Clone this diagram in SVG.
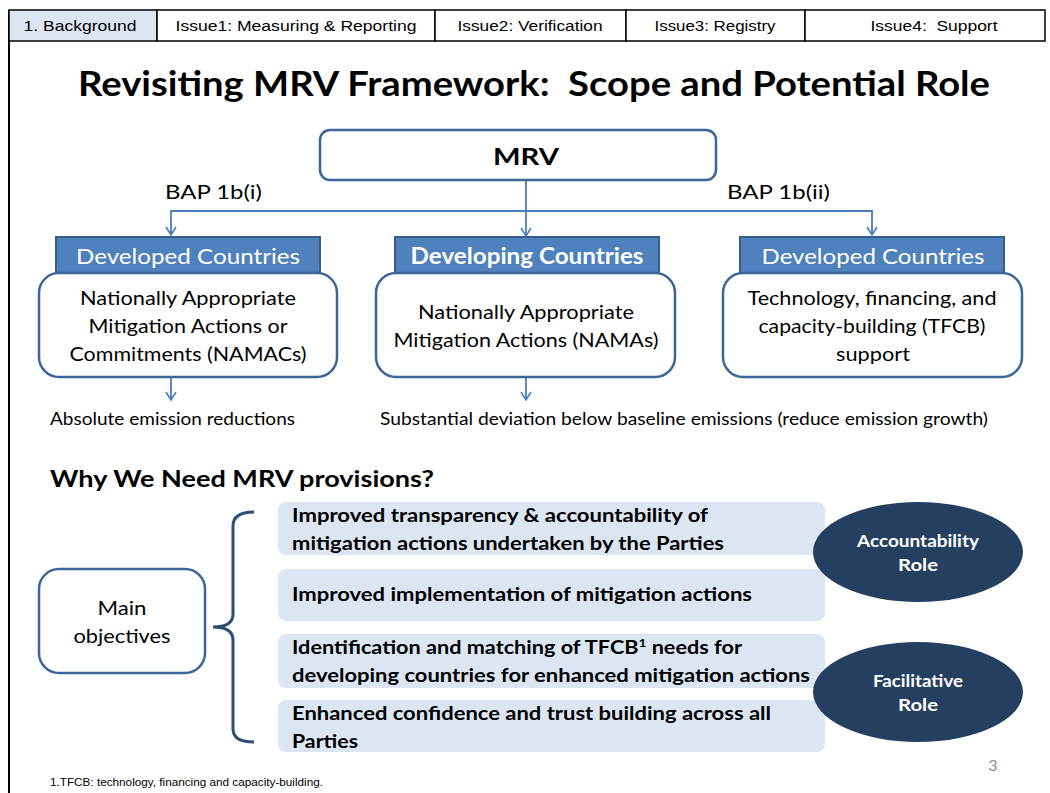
<svg xmlns="http://www.w3.org/2000/svg" width="1050" height="793" viewBox="0 0 1050 793">
<defs>
<marker id="arr" markerWidth="10" markerHeight="12" refX="9" refY="6" orient="auto-start-reverse" markerUnits="userSpaceOnUse" viewBox="0 0 10 12">
<path d="M1,1 L9,6 L1,11" fill="none" stroke="#4a7ebb" stroke-width="1.6"/>
</marker>
<style>
.tab{fill:#fff;stroke:#000;stroke-width:1.5}
.tabt{font-family:"Liberation Sans",Arial,sans-serif;font-size:15px;fill:#000;text-anchor:middle}
.c{font-family:Lato,"Open Sans",sans-serif;fill:#000}
.box{fill:#fff;stroke:#3c6697;stroke-width:2.5}
.hdr{fill:#4f81bd;stroke:#385d8a;stroke-width:2}
.hdrt{font-family:Lato,"Open Sans",sans-serif;font-size:22px;fill:#fff;text-anchor:middle}
.bt{font-family:Lato,"Open Sans",sans-serif;font-size:20px;fill:#000;text-anchor:middle}
.bar{fill:#dce6f2}
.bart{font-family:Lato,"Open Sans",sans-serif;font-size:19px;font-weight:bold;fill:#000}
.ell{fill:#243f60}
.ellt{font-family:Lato,"Open Sans",sans-serif;font-size:17px;font-weight:bold;fill:#fff;text-anchor:middle}
.conn{fill:none;stroke:#4a7ebb;stroke-width:1.8}
</style>
</defs>
<rect width="1050" height="793" fill="#fff"/>
<g id="frame">
<line x1="9" y1="10" x2="9" y2="793" stroke="#000" stroke-width="2"/>
<rect x="9" y="10" width="148" height="31" fill="#dce6f2" stroke="#000" stroke-width="1.5"/>
<rect class="tab" x="157" y="10" width="278" height="31"/>
<rect class="tab" x="435" y="10" width="191" height="31"/>
<rect class="tab" x="626" y="10" width="179" height="31"/>
<rect class="tab" x="805" y="10" width="240" height="31"/>
<text class="tabt" x="80" y="31" textLength="113" lengthAdjust="spacingAndGlyphs">1. Background</text>
<text class="tabt" x="296" y="31" textLength="241" lengthAdjust="spacingAndGlyphs">Issue1: Measuring &amp; Reporting</text>
<text class="tabt" x="530" y="31" textLength="145" lengthAdjust="spacingAndGlyphs">Issue2: Verification</text>
<text class="tabt" x="715" y="31" textLength="121" lengthAdjust="spacingAndGlyphs">Issue3: Registry</text>
<text class="tabt" x="934" y="31" textLength="127" lengthAdjust="spacingAndGlyphs" xml:space="preserve">Issue4:  Support</text>
</g>
<text class="c" x="78" y="96" font-size="34" font-weight="bold" textLength="912" lengthAdjust="spacingAndGlyphs" xml:space="preserve">Revisiting MRV Framework:  Scope and Potential Role</text>
<g id="connectors">
<line class="conn" x1="526" y1="180" x2="526" y2="236" marker-end="url(#arr)"/>
<polyline class="conn" points="171,235 171,211 872,211 872,235" marker-start="url(#arr)" marker-end="url(#arr)"/>
<line class="conn" x1="171" y1="378" x2="171" y2="400" marker-end="url(#arr)"/>
<line class="conn" x1="526" y1="378" x2="526" y2="400" marker-end="url(#arr)"/>
<path d="M254,512 Q233,512 233,526 L233,614 Q233,627 213,627 Q233,627 233,640 L233,729 Q233,742 254,742" fill="none" stroke="#2c4d75" stroke-width="3"/>
</g>
<g id="mrv">
<rect class="box" x="320" y="130" width="396" height="50" rx="10"/>
<text class="c" x="526" y="165" font-size="22" font-weight="bold" text-anchor="middle" textLength="66" lengthAdjust="spacingAndGlyphs">MRV</text>
</g>
<text class="c" x="165" y="199" font-size="20" textLength="97" lengthAdjust="spacingAndGlyphs">BAP 1b(i)</text>
<text class="c" x="727" y="199" font-size="20" textLength="103" lengthAdjust="spacingAndGlyphs">BAP 1b(ii)</text>
<g id="left">
<rect class="hdr" x="56" y="237" width="264" height="36"/>
<text class="hdrt" x="188" y="264" textLength="224" lengthAdjust="spacingAndGlyphs">Developed Countries</text>
<rect class="box" x="39" y="273" width="298" height="104" rx="20"/>
<text class="bt" x="188" y="305" textLength="216" lengthAdjust="spacingAndGlyphs">Nationally Appropriate</text>
<text class="bt" x="188" y="333" textLength="199" lengthAdjust="spacingAndGlyphs">Mitigation Actions or</text>
<text class="bt" x="188" y="361" textLength="237" lengthAdjust="spacingAndGlyphs">Commitments (NAMACs)</text>
</g>
<g id="middle">
<rect class="hdr" x="395" y="237" width="264" height="36"/>
<text class="hdrt" x="527" y="264" font-weight="bold" textLength="233" lengthAdjust="spacingAndGlyphs">Developing Countries</text>
<rect class="box" x="376" y="273" width="299" height="104" rx="20"/>
<text class="bt" x="526" y="319" textLength="216" lengthAdjust="spacingAndGlyphs">Nationally Appropriate</text>
<text class="bt" x="526" y="347" textLength="265" lengthAdjust="spacingAndGlyphs">Mitigation Actions (NAMAs)</text>
</g>
<g id="right">
<rect class="hdr" x="740" y="237" width="264" height="36"/>
<text class="hdrt" x="873" y="264" textLength="223" lengthAdjust="spacingAndGlyphs">Developed Countries</text>
<rect class="box" x="723" y="273" width="299" height="104" rx="20"/>
<text class="bt" x="872" y="305" textLength="249" lengthAdjust="spacingAndGlyphs">Technology, financing, and</text>
<text class="bt" x="872" y="333" textLength="227" lengthAdjust="spacingAndGlyphs">capacity-building (TFCB)</text>
<text class="bt" x="873" y="361" textLength="74" lengthAdjust="spacingAndGlyphs">support</text>
</g>
<text class="c" x="50" y="425" font-size="17" textLength="245" lengthAdjust="spacingAndGlyphs">Absolute emission reductions</text>
<text class="c" x="380" y="425" font-size="17" textLength="608" lengthAdjust="spacingAndGlyphs">Substantial deviation below baseline emissions (reduce emission growth)</text>
<text class="c" x="50" y="487" font-size="22" font-weight="bold" textLength="384" lengthAdjust="spacingAndGlyphs">Why We Need MRV provisions?</text>
<g id="main">
<rect x="39" y="569" width="166" height="104" rx="20" fill="#fff" stroke="#3c6697" stroke-width="2.5"/>
<text class="bt" x="122" y="615" textLength="49" lengthAdjust="spacingAndGlyphs">Main</text>
<text class="bt" x="122" y="643" textLength="97" lengthAdjust="spacingAndGlyphs">objectives</text>
</g>
<g id="obj1">
<rect class="bar" x="278" y="502" width="547" height="53" rx="8"/>
<text class="bart" x="292" y="522" textLength="416" lengthAdjust="spacingAndGlyphs">Improved transparency &amp; accountability of</text>
<text class="bart" x="292" y="550" textLength="432" lengthAdjust="spacingAndGlyphs">mitigation actions undertaken by the Parties</text>
</g>
<g id="obj2">
<rect class="bar" x="278" y="569" width="547" height="52" rx="8"/>
<text class="bart" x="292" y="601" textLength="460" lengthAdjust="spacingAndGlyphs">Improved implementation of mitigation actions</text>
</g>
<g id="obj3">
<rect class="bar" x="278" y="634" width="547" height="54" rx="8"/>
<text class="bart" x="292" y="654" textLength="450" lengthAdjust="spacingAndGlyphs">Identification and matching of TFCB<tspan font-size="12" dy="-7">1</tspan><tspan dy="7"> needs for</tspan></text>
<text class="bart" x="292" y="682" textLength="518" lengthAdjust="spacingAndGlyphs">developing countries for enhanced mitigation actions</text>
</g>
<g id="obj4">
<rect class="bar" x="278" y="700" width="547" height="52" rx="8"/>
<text class="bart" x="292" y="720" textLength="479" lengthAdjust="spacingAndGlyphs">Enhanced confidence and trust building across all</text>
<text class="bart" x="292" y="748" textLength="66" lengthAdjust="spacingAndGlyphs">Parties</text>
</g>
<g id="accountability">
<ellipse class="ell" cx="918" cy="552" rx="105" ry="50"/>
<text class="ellt" x="918" y="547" textLength="122" lengthAdjust="spacingAndGlyphs">Accountability</text>
<text class="ellt" x="918" y="571" textLength="40" lengthAdjust="spacingAndGlyphs">Role</text>
</g>
<g id="facilitative">
<ellipse class="ell" cx="918" cy="692" rx="105" ry="50"/>
<text class="ellt" x="918" y="687" textLength="90" lengthAdjust="spacingAndGlyphs">Facilitative</text>
<text class="ellt" x="918" y="711" textLength="40" lengthAdjust="spacingAndGlyphs">Role</text>
</g>
<text x="993" y="771" font-family="Lato,sans-serif" font-size="16" fill="#8c8c8c" text-anchor="middle">3</text>
<text x="50" y="786" font-family="'Liberation Sans',Arial,sans-serif" font-size="10.5" fill="#000" textLength="273" lengthAdjust="spacingAndGlyphs">1.TFCB: technology, financing and capacity-building.</text>
</svg>
